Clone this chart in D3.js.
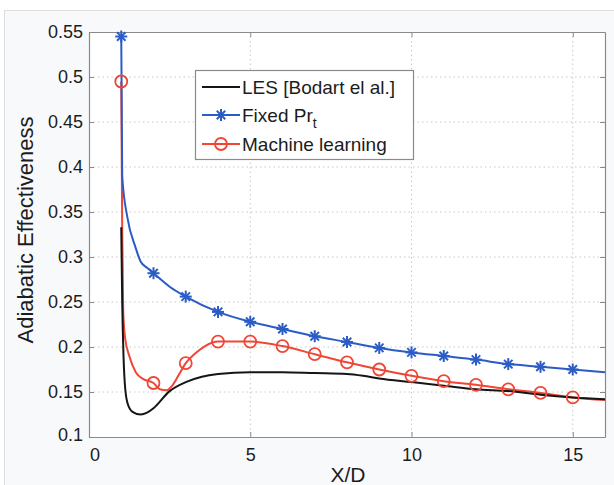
<!DOCTYPE html>
<meta charset="utf-8">
<body style="margin:0;background-color:#ffffff;">
<svg width="614" height="485"></svg>
<script src="https://cdn.jsdelivr.net/npm/d3@7"></script>
<script>

// values
var xTicks = [0, 5, 10, 15];
var yTicks = [0.1, 0.15, 0.2, 0.25, 0.3, 0.35, 0.4, 0.45, 0.5, 0.55];

var lesX = [1, 1.03, 1.07, 1.12, 1.2, 1.35, 1.6, 1.8, 2, 2.5, 3, 3.5, 4, 5, 6, 7, 8, 8.5, 9, 10, 11, 12, 13, 14, 15, 16];
var lesY = [0.333, 0.25, 0.19, 0.155, 0.137, 0.128, 0.125, 0.127, 0.132, 0.151, 0.161, 0.167, 0.170, 0.172, 0.172, 0.171, 0.170, 0.168, 0.165, 0.161, 0.157, 0.153, 0.151, 0.147, 0.144, 0.142];

var fixedX = [1, 1.03, 1.19, 1.44, 1.6, 1.8, 2, 2.5, 3, 4, 5, 6, 7, 8, 9, 10, 11, 12, 13, 14, 15, 16];
var fixedY = [0.545, 0.39, 0.344, 0.311, 0.295, 0.288, 0.282, 0.267, 0.256, 0.239, 0.228, 0.220, 0.212, 0.2056, 0.199, 0.194, 0.190, 0.186, 0.181, 0.178, 0.175, 0.172];

var mlX = [1, 1.03, 1.06, 1.12, 1.25, 1.45, 1.7, 2, 2.2, 2.4, 2.6, 2.8, 3, 3.3, 3.6, 4, 5, 6, 7, 8, 9, 10, 11, 12, 13, 14, 15, 16];
var mlY = [0.495, 0.33, 0.24, 0.21, 0.19, 0.172, 0.164, 0.160, 0.153, 0.152, 0.158, 0.170, 0.182, 0.193, 0.201, 0.206, 0.206, 0.201, 0.192, 0.183, 0.175, 0.168, 0.162, 0.158, 0.153, 0.149, 0.144, 0.141];

var svg = d3.select("svg");
var W = 614, H = 485;
var pLeft = 89, pTop = 32, pRight = 605, pBottom = 437;
var font = "'Liberation Sans', Arial, sans-serif";

// figure background + frame
svg.append('rect').attr('x', 0).attr('y', 0).attr('width', W).attr('height', H).attr('fill', '#ffffff');
svg.append('rect').attr('x', 4.5).attr('y', 10.5).attr('width', W).attr('height', H)
   .attr('fill', '#f8f9fb').attr('stroke', '#dddddd').attr('stroke-width', 1);

var x = d3.scaleLinear().domain([0, 16]).range([pLeft, pRight]);
var y = d3.scaleLinear().domain([0.1, 0.55]).range([pBottom, pTop]);

svg.append('rect').attr('x', pLeft).attr('y', pTop).attr('width', pRight - pLeft).attr('height', pBottom - pTop)
   .attr('fill', '#ffffff');

// grid
var grid = svg.append('g').attr('stroke', '#c8c8c8').attr('stroke-width', 1).attr('stroke-dasharray', '1.5,3');
xTicks.forEach(function(t) {
  if (t === 0) return;
  grid.append('line').attr('x1', x(t)).attr('x2', x(t)).attr('y1', pTop).attr('y2', pBottom);
});
yTicks.forEach(function(t) {
  if (t === 0.1 || t === 0.55) return;
  grid.append('line').attr('x1', pLeft).attr('x2', pRight).attr('y1', y(t)).attr('y2', y(t));
});

// axes (ticks inside, box on)
var axB = svg.append('g').attr('transform', 'translate(0,' + pBottom + ')')
  .call(d3.axisBottom(x).tickValues(xTicks).tickSizeInner(-5).tickSizeOuter(0).tickPadding(11).tickFormat(d3.format('d')));
var axL = svg.append('g').attr('transform', 'translate(' + pLeft + ',0)')
  .call(d3.axisLeft(y).tickValues(yTicks).tickSizeInner(-5).tickSizeOuter(0).tickPadding(6).tickFormat(function(d) { return String(+d.toFixed(2)); }));
var axT = svg.append('g').attr('transform', 'translate(0,' + pTop + ')')
  .call(d3.axisTop(x).tickValues(xTicks).tickSizeInner(-5).tickSizeOuter(0).tickFormat(''));
var axR = svg.append('g').attr('transform', 'translate(' + pRight + ',0)')
  .call(d3.axisRight(y).tickValues(yTicks).tickSizeInner(-5).tickSizeOuter(0).tickFormat(''));

[axB, axL, axT, axR].forEach(function(a) {
  a.selectAll('path').attr('stroke', '#8a8a8a').attr('stroke-width', 1.2);
  a.selectAll('line').attr('stroke', '#8a8a8a');
  a.selectAll('text').attr('fill', '#1c1c1c').style('font-family', font).style('font-size', '18px');
});
axL.select('.tick:first-of-type text').attr('dy', '0.2em');
axB.select('.tick:first-of-type text').attr('dx', '0.3em');

// axis labels
svg.append('text').attr('x', (pLeft + pRight) / 2 + 1).attr('y', 482).attr('text-anchor', 'middle')
   .style('font-family', font).style('font-size', '21px').attr('fill', '#1c1c1c').text('X/D');
svg.append('text').attr('transform', 'translate(33,' + 230 + ')rotate(-90)').attr('text-anchor', 'middle')
   .style('font-family', font).style('font-size', '22px').attr('fill', '#1c1c1c').text('Adiabatic Effectiveness');

var plot = svg.append('g');
var blue = '#2b5cc6', red = '#ef4636', black = '#151515';

function pts(xs, ys) { return xs.map(function(v, i) { return [v, ys[i]]; }); }
var line = d3.line().x(function(d) { return x(d[0]); }).y(function(d) { return y(d[1]); }).curve(d3.curveMonotoneX);

var mlPts = pts(mlX, mlY), fixedPts = pts(fixedX, fixedY), lesPts = pts(lesX, lesY);

plot.append('path').attr('d', line(mlPts)).attr('fill', 'none').attr('stroke', red).attr('stroke-width', 2);
plot.append('path').attr('d', line(fixedPts)).attr('fill', 'none').attr('stroke', blue).attr('stroke-width', 2);
plot.append('path').attr('d', line(lesPts)).attr('fill', 'none').attr('stroke', black).attr('stroke-width', 2);

function isMark(d) { return Number.isInteger(d[0]) && d[0] <= 15; }

function star(g, cx, cy, r) {
  var s = g.append('g').attr('transform', 'translate(' + cx + ',' + cy + ')')
           .attr('stroke', blue).attr('stroke-width', 2);
  [0, 45, 90, 135].forEach(function(a) {
    var rad = a * Math.PI / 180;
    s.append('line').attr('x1', -r * Math.cos(rad)).attr('y1', -r * Math.sin(rad))
     .attr('x2', r * Math.cos(rad)).attr('y2', r * Math.sin(rad));
  });
}

fixedPts.filter(isMark).forEach(function(d) { star(plot, x(d[0]), y(d[1]), 6); });
plot.selectAll('circle.ml').data(mlPts.filter(isMark)).enter().append('circle')
    .attr('cx', function(d) { return x(d[0]); }).attr('cy', function(d) { return y(d[1]); })
    .attr('r', 6).attr('fill', 'none').attr('stroke', red).attr('stroke-width', 1.8);

// legend
var lg = svg.append('g');
lg.append('rect').attr('x', 195.5).attr('y', 70.5).attr('width', 218).attr('height', 89)
  .attr('fill', '#ffffff').attr('stroke', '#8a8a8a').attr('stroke-width', 1.2);
var rows = [
  {y: 87, color: black, mark: 'none', label: 'LES [Bodart el al.]'},
  {y: 115, color: blue, mark: 'star', label: 'Fixed Pr'},
  {y: 144, color: red, mark: 'circle', label: 'Machine learning'}
];
rows.forEach(function(r) {
  lg.append('line').attr('x1', 202).attr('x2', 240).attr('y1', r.y).attr('y2', r.y)
    .attr('stroke', r.color).attr('stroke-width', 2);
  if (r.mark === 'star') star(lg, 221, r.y, 6);
  if (r.mark === 'circle') lg.append('circle').attr('cx', 221).attr('cy', r.y).attr('r', 6)
    .attr('fill', 'none').attr('stroke', red).attr('stroke-width', 1.8);
  var t = lg.append('text').attr('x', 242).attr('y', r.y + 7).style('font-family', font)
    .style('font-size', '19px').attr('fill', '#1c1c1c').text(r.label);
  if (r.mark === 'star') t.append('tspan').attr('dy', 6).style('font-size', '14px').text('t');
});

</script>
</body>
